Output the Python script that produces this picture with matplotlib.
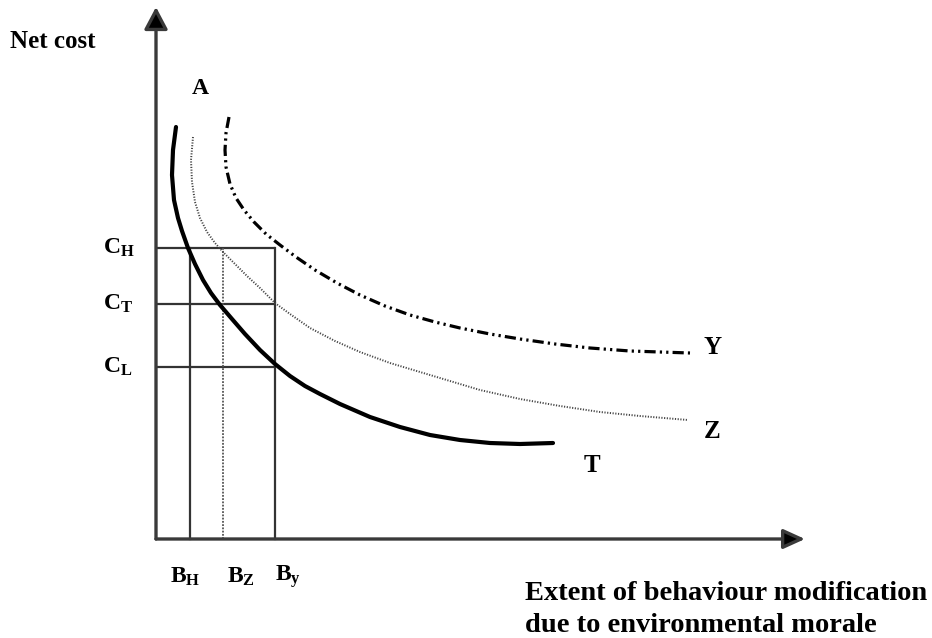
import matplotlib
matplotlib.use("Agg")
import matplotlib.pyplot as plt
import numpy as np

plt.rcParams['font.family'] = ['Liberation Serif', 'DejaVu Serif']
plt.rcParams['mathtext.fontset'] = 'custom'
plt.rcParams['mathtext.rm'] = 'Liberation Serif:bold'
plt.rcParams['mathtext.bf'] = 'Liberation Serif:bold'
plt.rcParams['mathtext.it'] = 'Liberation Serif:bold'

# Curve data (origin at the axes corner; x to the right, y upwards)
T_x = [20, 17, 16, 18, 22, 26, 32, 39, 47, 55, 64, 76, 89, 104, 119, 134, 149, 164,
       184, 214, 244, 274, 304, 334, 364, 397]
T_y = [412, 389, 364, 339, 321, 308, 291, 275, 259, 246, 234, 220, 205, 189, 175, 163,
       153, 145, 135, 122, 112, 104, 99, 96, 95, 96]

Z_x = [37, 35, 36, 39, 44, 51, 59, 68, 79, 91, 104, 119, 134, 154, 179, 204, 234, 264,
       294, 324, 364, 404, 444, 484, 532]
Z_y = [402, 379, 357, 337, 321, 307, 296, 286, 275, 263, 251, 236, 225, 211, 198, 187,
       176, 167, 158, 149, 140, 133, 127, 123, 119]

Y_x = [73, 70, 69, 70, 74, 80, 88, 98, 110, 124, 140, 159, 181, 204, 229, 254, 279, 304,
       334, 364, 399, 434, 474, 504, 534]
Y_y = [422, 406, 389, 372, 355, 341, 329, 317, 305, 294, 282, 269, 256, 244, 233, 224,
       217, 211, 205, 200, 195, 191, 188, 187, 186]

# Guide lines
B_labels = [r'$\mathbf{B_H}$', r'$\mathbf{B_Z}$', r'$\mathbf{B_y}$']
B_vals = [34, 67, 119]
C_labels = [r'$\mathbf{C_H}$', r'$\mathbf{C_T}$', r'$\mathbf{C_L}$']
C_vals = [291, 235, 172]

fig = plt.figure(figsize=(9.32, 6.38), dpi=100)
ax = fig.add_axes([0, 0, 1, 1])
ax.set_xlim(-156, 776)
ax.set_ylim(-99, 539)
ax.axis('off')

lc = '#333333'
# axes with arrows
ax.annotate('', xy=(0, 532), xytext=(0, 0),
            arrowprops=dict(arrowstyle='-|>,head_length=0.68,head_width=0.36',
                            lw=2.4, mutation_scale=20, shrinkA=0, shrinkB=0,
                            fc='black', ec='#3a3a3a'))
ax.annotate('', xy=(649, 0), xytext=(0, 0),
            arrowprops=dict(arrowstyle='-|>,head_length=0.66,head_width=0.3',
                            lw=2.4, mutation_scale=20, shrinkA=0, shrinkB=0,
                            fc='black', ec='#3a3a3a'))

# rectangle guide lines
top = C_vals[0]
right = B_vals[2]
for c in C_vals:
    ax.plot([0, right], [c, c], color=lc, lw=1.6, solid_capstyle='butt')
ax.plot([B_vals[0], B_vals[0]], [0, top], color=lc, lw=1.6)
ax.plot([B_vals[1], B_vals[1]], [0, top], color='#555555', lw=1.3, ls=(0, (1, 0.8)))
ax.plot([B_vals[2], B_vals[2]], [0, top], color=lc, lw=1.6)

# curves
ax.plot(T_x, T_y, color='black', lw=3.0, solid_capstyle='round', solid_joinstyle='round')
ax.plot(Z_x, Z_y, color='#444444', lw=1.4, ls=(0, (0.6, 0.8)))
ax.plot(Y_x, Y_y, color='black', lw=2.3, ls=(0, (3.5, 1.3, 0.7, 1.3, 0.7, 1.3)))

fs = 17
for lab, v in zip(C_labels, C_vals):
    ax.text(-53, v, lab, fontsize=fs, ha='left', va='center')
B_lab_x = [14, 71, 119]
for lab, xv in zip(B_labels, B_lab_x):
    ax.text(xv, -38, lab, fontsize=fs, ha='left', va='center')

ax.text(-146, 497, 'Net cost', fontsize=18, fontweight='bold', ha='left', va='center')
ax.text(44, 451, 'A', fontsize=17, fontweight='bold', ha='center', va='center')
ax.text(557, 191, 'Y', fontsize=18, fontweight='bold', ha='center', va='center')
ax.text(556, 107, 'Z', fontsize=18, fontweight='bold', ha='center', va='center')
ax.text(436, 73, 'T', fontsize=18, fontweight='bold', ha='center', va='center')
ax.text(369, -54, 'Extent of behaviour modification',
        fontsize=20.5, fontweight='bold', ha='left', va='center')
ax.text(369, -86, 'due to environmental morale',
        fontsize=20.5, fontweight='bold', ha='left', va='center')

fig.savefig('out.png', dpi=100)
